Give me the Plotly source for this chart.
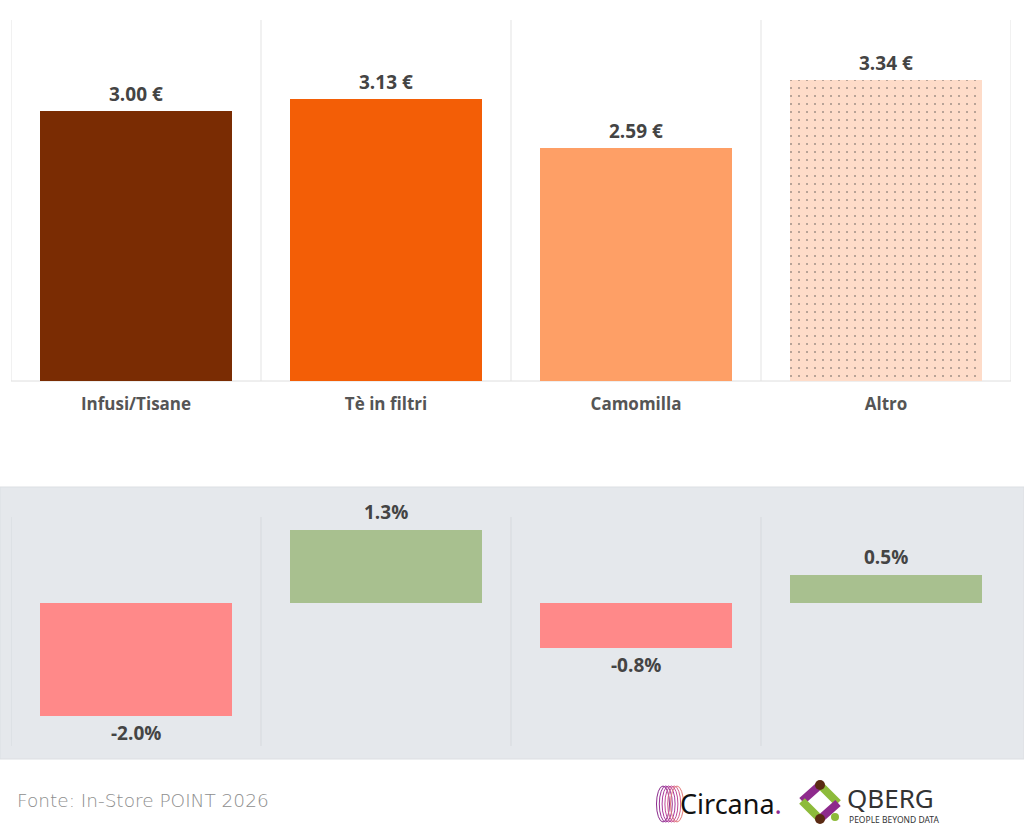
import plotly.graph_objects as go

# ---- data ----
categories = ["Infusi/Tisane", "Tè in filtri", "Camomilla", "Altro"]
prices = [3.00, 3.13, 2.59, 3.34]
changes = [-2.0, 1.3, -0.8, 0.5]
source_text = "Fonte: In-Store POINT 2026"

# ---- styles ----
price_colors = ["#7a2c03", "#f35e06", "#fe9f66", "#fedcc9"]
pos_color = "#a8c08f"
neg_color = "#ff8989"
W, H = 1024, 834
FONT_B = "Open Sans"


def px(x):
    return x / W


def py(y):
    return 1 - y / H


fig = go.Figure()

fig.add_trace(go.Bar(
    x=categories, y=prices, marker=dict(color=price_colors, line=dict(width=0),
                                        pattern=dict(shape=["", "", "", "."], fgcolor="#fbd2be",
                                                     size=8, solidity=0.05)),
    width=0.768, xaxis="x", yaxis="y", hoverinfo="skip", showlegend=False))

fig.add_trace(go.Bar(
    x=categories, y=changes,
    marker=dict(color=[pos_color if v >= 0 else neg_color for v in changes], line=dict(width=0)),
    width=0.768, xaxis="x2", yaxis="y2", hoverinfo="skip", showlegend=False))

top_dom = [py(381), py(20)]
bot_dom = [py(746), py(517)]

fig.update_layout(
    width=W, height=H, margin=dict(l=0, r=0, t=0, b=0),
    paper_bgcolor="white", plot_bgcolor="rgba(0,0,0,0)",
    bargap=0,
    xaxis=dict(domain=[px(11), px(1011)], range=[-0.5, 3.5], showgrid=False, zeroline=False,
               showline=False, ticks="outside", ticklen=8, tickcolor="rgba(0,0,0,0)",
               tickfont=dict(family=FONT_B, size=17, color="#555555", weight="bold"),
               fixedrange=True),
    yaxis=dict(domain=top_dom, range=[0, 4.01], visible=False, fixedrange=True),
    xaxis2=dict(domain=[px(11), px(1011)], range=[-0.5, 3.5], visible=False, fixedrange=True),
    yaxis2=dict(domain=bot_dom, range=[-2.54, 1.53], visible=False, fixedrange=True),
)

shapes = []
# bottom grey panel
shapes.append(dict(type="rect", xref="paper", yref="paper", x0=0, x1=1, y0=py(759), y1=py(487),
                   fillcolor="#e5e8ec", line=dict(color="#dcdfe3", width=1), layer="below"))
# dividers top panel
for b in [-0.5, 0.5, 1.5, 2.5, 3.5]:
    shapes.append(dict(type="line", xref="x", yref="paper", x0=b, x1=b, y0=top_dom[0], y1=top_dom[1],
                       line=dict(color="#e3e3e3", width=1), layer="below"))
for b in [-0.5, 0.5, 1.5, 2.5]:
    shapes.append(dict(type="line", xref="x2", yref="paper", x0=b, x1=b, y0=bot_dom[0], y1=bot_dom[1],
                       line=dict(color="#d6d9dd", width=1), layer="below"))
# baseline top
shapes.append(dict(type="line", xref="x", yref="paper", x0=-0.5, x1=3.5, y0=top_dom[0], y1=top_dom[0],
                   line=dict(color="#dedede", width=1), layer="below"))

# ---- Circana logo (decorative) ----
circ_cols = ["#8a2a8c", "#9a3196", "#ab3a9d", "#c04a98", "#d45d8c", "#e27a7a"]
for i, c in enumerate(circ_cols):
    cx = 663 + i * 2.8
    shapes.append(dict(type="circle", xref="paper", yref="paper",
                       x0=px(cx - 6.5), x1=px(cx + 6.5), y0=py(822), y1=py(786),
                       line=dict(color=c, width=1)))

# ---- QBERG logo (decorative) ----
top_p = (820, 785)
right_p = (838, 803)
bot_p = (820, 819)
left_p = (802, 801)
segs = [(left_p, top_p, "#8e2a8c"), (top_p, right_p, "#8dbb3a"),
        (right_p, bot_p, "#8e2a8c"), (bot_p, left_p, "#8dbb3a")]
for (a, b, c) in segs:
    shapes.append(dict(type="line", xref="paper", yref="paper", x0=px(a[0]), y0=py(a[1]),
                       x1=px(b[0]), y1=py(b[1]), line=dict(color=c, width=8)))
for (cx, cy) in [top_p, bot_p]:
    shapes.append(dict(type="circle", xref="paper", yref="paper", x0=px(cx - 5), x1=px(cx + 5),
                       y0=py(cy + 5), y1=py(cy - 5), fillcolor="#5a2a12", line=dict(width=0)))
shapes.append(dict(type="circle", xref="paper", yref="paper", x0=px(831), x1=px(839),
                   y0=py(821), y1=py(813), fillcolor="#8dbb3a", line=dict(width=0)))

fig.update_layout(shapes=shapes)

ann = []
for c, v in zip(categories, prices):
    ann.append(dict(x=c, y=v, xref="x", yref="y", text=f"{v:.2f} €", showarrow=False,
                    yanchor="bottom", yshift=2,
                    font=dict(family=FONT_B, size=19, color="#444444", weight="bold")))
for c, v in zip(categories, changes):
    ann.append(dict(x=c, y=v, xref="x2", yref="y2", text=f"{v:.1f}%", showarrow=False,
                    yanchor="bottom" if v >= 0 else "top", yshift=3 if v >= 0 else -2,
                    font=dict(family=FONT_B, size=19, color="#444444", weight="bold")))
ann.append(dict(x=px(15), y=py(800), xref="paper", yref="paper", text=source_text, showarrow=False,
                xanchor="left", yanchor="middle",
                font=dict(family="DejaVu Sans", size=18.5, color="#8e8e8e", weight=200)))
ann.append(dict(x=px(678), y=py(803), xref="paper", yref="paper",
                text="Circana<span style='color:#8e2a8f'>.</span>", showarrow=False,
                xanchor="left", yanchor="middle",
                font=dict(family="Noto Sans", size=27, color="#111111")))
ann.append(dict(x=px(845), y=py(798), xref="paper", yref="paper", text="QBERG", showarrow=False,
                xanchor="left", yanchor="middle",
                font=dict(family="Noto Sans", size=26, color="#333333")))
ann.append(dict(x=px(847), y=py(819), xref="paper", yref="paper", text="PEOPLE BEYOND DATA",
                showarrow=False, xanchor="left", yanchor="middle",
                font=dict(family="Noto Sans", size=8.5, color="#333333")))
fig.update_layout(annotations=ann)

fig.write_html("out.html")
